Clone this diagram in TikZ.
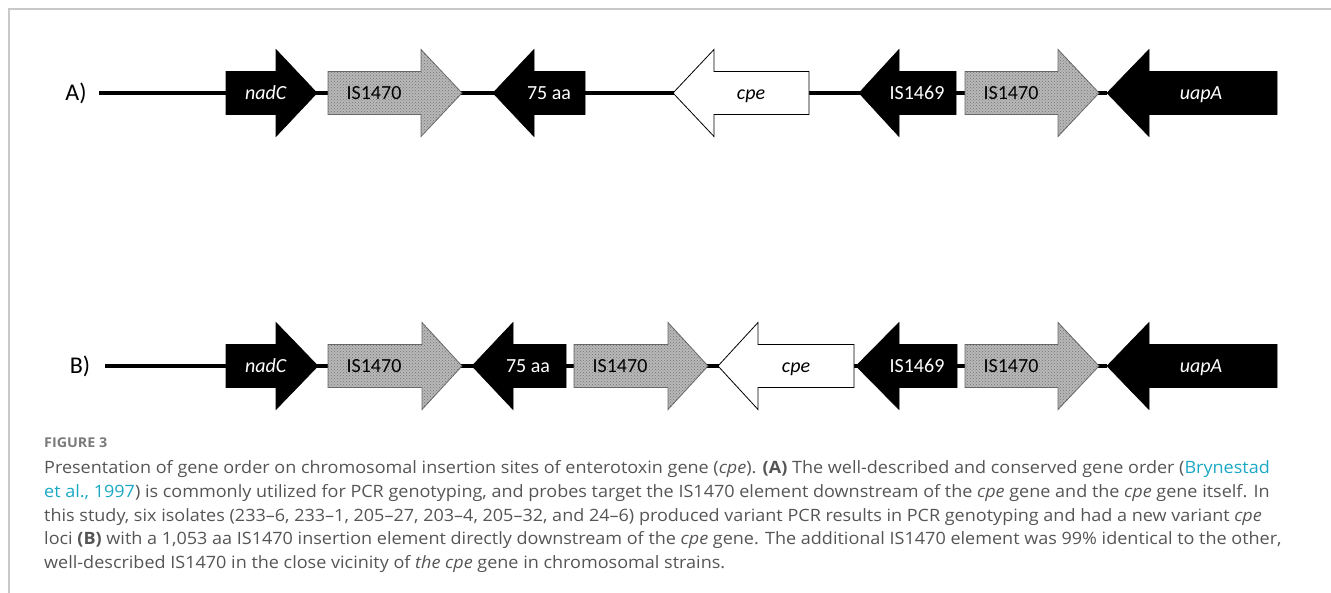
\documentclass[tikz,border=0pt]{standalone}
\usepackage{fontspec}
\setmainfont{Open Sans}[FakeStretch=1.06]
\newfontfamily\calibri{Carlito}
\usetikzlibrary{patterns,backgrounds}

\definecolor{capgray}{HTML}{555555}
\definecolor{figgray}{HTML}{7A7A7A}
\definecolor{linkcol}{HTML}{1BA8C4}
\definecolor{framegray}{HTML}{C8C8C8}

\tikzset{
  blackgene/.style={fill=black,draw=black,line width=0.6pt},
  whitegene/.style={fill=white,draw=black,line width=0.8pt},
  isgene/.style={fill=black!28,draw=black!60,line width=0.8pt,
    postaction={pattern=crosshatch dots,pattern color=black!55}},
  genelabel/.style={font=\calibri\fontsize{20}{20}\selectfont,inner sep=0pt,anchor=base},
  rowlabel/.style={font=\calibri\fontsize{24}{24}\selectfont,inner sep=0pt,anchor=base},
  backbone/.style={line width=4.5pt,black},
  capline/.style={anchor=base west,inner sep=0pt,text=capgray,
    font=\fontsize{17}{24}\selectfont}
}

% name, style, y, tail x, head base x, tip x
\newcommand{\gene}[6]{%
  \path[#2] (#4,#3-21.5) -- (#5,#3-21.5) -- (#5,#3-43.5) -- (#6,#3)
    -- (#5,#3+43.5) -- (#5,#3+21.5) -- (#4,#3+21.5) -- cycle;
  \coordinate (#1-tip) at (#6,#3);
  \coordinate (#1-tail) at (#4,#3);
}

\begin{document}
\begin{tikzpicture}[x=1pt,y=-1pt]
\useasboundingbox (0,0) rectangle (1331,593);
\coordinate (fr-a) at (9,593);
\coordinate (fr-b) at (9,9);
\coordinate (fr-c) at (1331,9);
\draw[framegray,line width=1.6pt] (fr-a) -- (fr-b) -- (fr-c);

% row A
\node[rowlabel] (A) at (76,101) {A)};
\coordinate (A-start) at (99,93);
\gene{A-nadC}{blackgene}{93}{226}{276}{317}
\gene{A-is1}{isgene}{93}{328}{421}{462}
\gene{A-aa}{blackgene}{93}{585}{534}{493}
\gene{A-cpe}{whitegene}{93}{809}{714}{673}
\gene{A-is1469}{blackgene}{93}{956}{899}{859}
\gene{A-is2}{isgene}{93}{965}{1058}{1099}
\gene{A-uapA}{blackgene}{93}{1277}{1149}{1107}
\node[genelabel,white] (A-nadC-l) at (266,100) {\textit{nadC}};
\node[genelabel] (A-is1-l) at (374,100) {IS1470};
\node[genelabel,white] (A-aa-l) at (549,100) {75 aa};
\node[genelabel] (A-cpe-l) at (751,100) {\textit{cpe}};
\node[genelabel,white] (A-is1469-l) at (917,100) {IS1469};
\node[genelabel] (A-is2-l) at (1011,100) {IS1470};
\node[genelabel,white] (A-uapA-l) at (1201,100) {\textit{uapA}};
\begin{pgfonlayer}{background}
\draw[backbone] (A-start) -- (A-uapA-tip);
\end{pgfonlayer}

% row B
\node[rowlabel] (B) at (80,374) {B)};
\coordinate (B-start) at (105,366);
\gene{B-nadC}{blackgene}{366}{226}{276}{318}
\gene{B-is1}{isgene}{366}{328}{422}{462}
\gene{B-aa}{blackgene}{366}{566}{513}{472}
\gene{B-is2}{isgene}{366}{574}{668}{708}
\gene{B-cpe}{whitegene}{366}{854}{758}{718}
\gene{B-is1469}{blackgene}{366}{957}{899}{856}
\gene{B-is3}{isgene}{366}{965}{1058}{1099}
\gene{B-uapA}{blackgene}{366}{1277}{1149}{1107}
\node[genelabel,white] (B-nadC-l) at (266,373) {\textit{nadC}};
\node[genelabel] (B-is1-l) at (374,373) {IS1470};
\node[genelabel,white] (B-aa-l) at (528,373) {75 aa};
\node[genelabel] (B-is2-l) at (620,373) {IS1470};
\node[genelabel] (B-cpe-l) at (796,373) {\textit{cpe}};
\node[genelabel,white] (B-is1469-l) at (917,373) {IS1469};
\node[genelabel] (B-is3-l) at (1011,373) {IS1470};
\node[genelabel,white] (B-uapA-l) at (1201,373) {\textit{uapA}};
\begin{pgfonlayer}{background}
\draw[backbone] (B-start) -- (B-uapA-tip);
\end{pgfonlayer}

% caption
\node[anchor=base west,inner sep=0pt,text=figgray,
  font=\fontsize{13.5}{13.5}\selectfont\bfseries] (fig) at (44,448) {FIGURE 3};
\node[capline] (cap1) at (44,473) {Presentation of gene order on chromosomal insertion sites of enterotoxin gene (\textit{cpe}). \textbf{(A)} The well-described and conserved gene order (\textcolor{linkcol}{Brynestad}};
\node[capline] (cap2) at (44,497) {\textcolor{linkcol}{et al., 1997}) is commonly utilized for PCR genotyping, and probes target the IS1470 element downstream of the \textit{cpe} gene and the \textit{cpe} gene itself. In};
\node[capline] (cap3) at (44,521) {this study, six isolates (233--6, 233--1, 205--27, 203--4, 205--32, and 24--6) produced variant PCR results in PCR genotyping and had a new variant \textit{cpe}};
\node[capline] (cap4) at (44,544) {loci \textbf{(B)} with a 1,053 aa IS1470 insertion element directly downstream of the \textit{cpe} gene. The additional IS1470 element was 99\% identical to the other,};
\node[capline] (cap5) at (44,568) {well-described IS1470 in the close vicinity of \textit{the cpe} gene in chromosomal strains.};
\end{tikzpicture}
\end{document}
